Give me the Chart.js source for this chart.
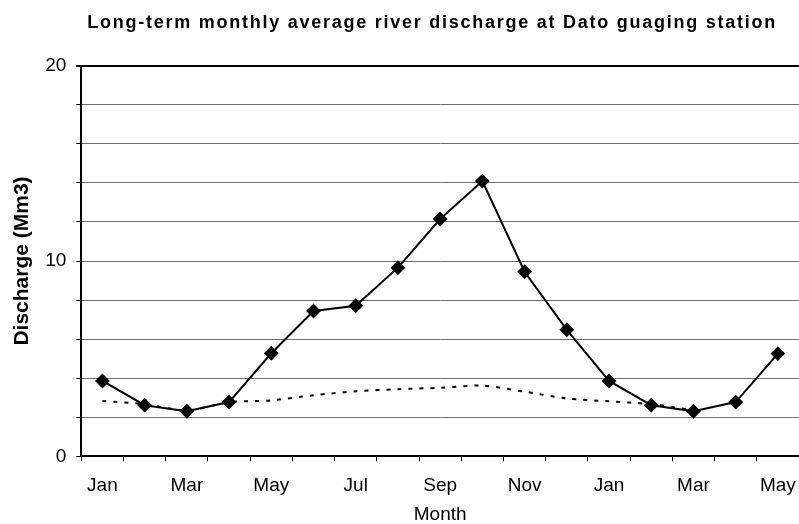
<!DOCTYPE html>
<html>
<head>
<meta charset="utf-8">
<script src="https://cdn.jsdelivr.net/npm/chart.js@4/dist/chart.umd.min.js"></script>
<style>
  html, body { margin: 0; padding: 0; background: #fff; }
  #wrap { width: 799px; height: 524px; }
</style>
</head>
<body>
<div id="wrap"><canvas id="myChart"></canvas></div>
<script>
// months shown on the x axis (Jan of one year to May of the next)
const meses = ['Jan','Feb','Mar','Apr','May','Jun','Jul','Aug','Sep','Oct','Nov','Dec','Jan','Feb','Mar','Apr','May'];
// long-term monthly average discharge (Mm3)
const descarga = [3.86, 2.62, 2.31, 2.78, 5.28, 7.44, 7.71, 9.66, 12.15, 14.09, 9.45, 6.48, 3.86, 2.62, 2.31, 2.78, 5.26];
// dotted series (ends at the second March)
const descargaBase = [2.84, 2.67, 2.36, 2.77, 2.87, 3.13, 3.33, 3.44, 3.51, 3.62, 3.31, 2.97, 2.82, 2.67, 2.36, null, null];
const yTicks = [0, 10, 20];

const fuente = 'Liberation Sans, Arial, sans-serif';

// the title in the picture is spaced out a bit (and sits a little left of centre)
const espaciado = {
  id: 'espaciado',
  beforeDraw(chart) {
    const t = chart.titleBlock;
    if (t && !t._espaciado) {
      const dibujar = t.draw.bind(t);
      t.draw = function () {
        const c = chart.ctx;
        c.save();
        c.letterSpacing = '1.75px';
        c.translate(-8, 0);
        dibujar();
        c.restore();
      };
      t._espaciado = true;
    }
  }
};

const ctx = document.getElementById('myChart').getContext('2d');
const myChart = new Chart(ctx, {
  type: 'line',
  data: {
    labels: meses,
    datasets: [{
      label: 'Discharge',
      data: descarga,
      borderColor: '#000',
      backgroundColor: '#000',
      borderWidth: 2,
      pointStyle: 'rectRot',
      pointRadius: 6,
      pointHoverRadius: 6,
      tension: 0,
      order: 1
    }, {
      label: 'Base',
      data: descargaBase,
      borderColor: '#000',
      borderWidth: 2,
      borderDash: [4, 7],
      pointRadius: 0,
      tension: 0.3,
      order: 2
    }]
  },
  plugins: [espaciado],
  options: {
    responsive: true,
    maintainAspectRatio: false,
    animation: false,
    layout: { autoPadding: false, padding: { top: 4, right: 0, left: 10, bottom: 0 } },
    plugins: {
      legend: { display: false },
      tooltip: { enabled: false },
      title: {
        display: true,
        fullSize: false,
        text: 'Long-term monthly average river discharge at Dato guaging station',
        color: '#000',
        font: { family: fuente, size: 18, weight: 'bold' },
        padding: { top: 8, bottom: 32 }
      }
    },
    scales: {
      x: {
        offset: true,
        afterFit: function (s) { s.paddingLeft = 0; s.paddingRight = 0; },
        border: { color: '#000', width: 2 },
        grid: { offset: true, drawOnChartArea: false, color: '#000', tickLength: 5, lineWidth: 1 },
        ticks: {
          autoSkip: false,
          maxRotation: 0,
          color: '#000',
          padding: 13,
          font: { family: fuente, size: 19 },
          callback: function (val, i) { return i % 2 === 0 ? meses[i] : ''; }
        },
        title: {
          display: true,
          text: 'Month',
          color: '#000',
          font: { family: fuente, size: 19 },
          padding: { top: -7, bottom: -2 }
        }
      },
      y: {
        min: 0,
        max: 20,
        border: { color: '#000', width: 2 },
        grid: {
          color: (c) => c.tick && c.tick.value === 20 ? '#000' : '#6e6e6e',
          lineWidth: (c) => c.tick && c.tick.value === 20 ? 2 : 1,
          tickColor: '#000',
          tickLength: 5
        },
        ticks: {
          stepSize: 2,
          color: '#000',
          padding: 10,
          font: { family: fuente, size: 19 },
          callback: function (v) { return yTicks.includes(v) ? v : ''; }
        },
        title: {
          display: true,
          text: 'Discharge (Mm3)',
          color: '#000',
          font: { family: fuente, size: 21, weight: 'bold' },
          padding: { top: 0, bottom: 0 }
        }
      }
    }
  }
});
</script>
</body>
</html>
